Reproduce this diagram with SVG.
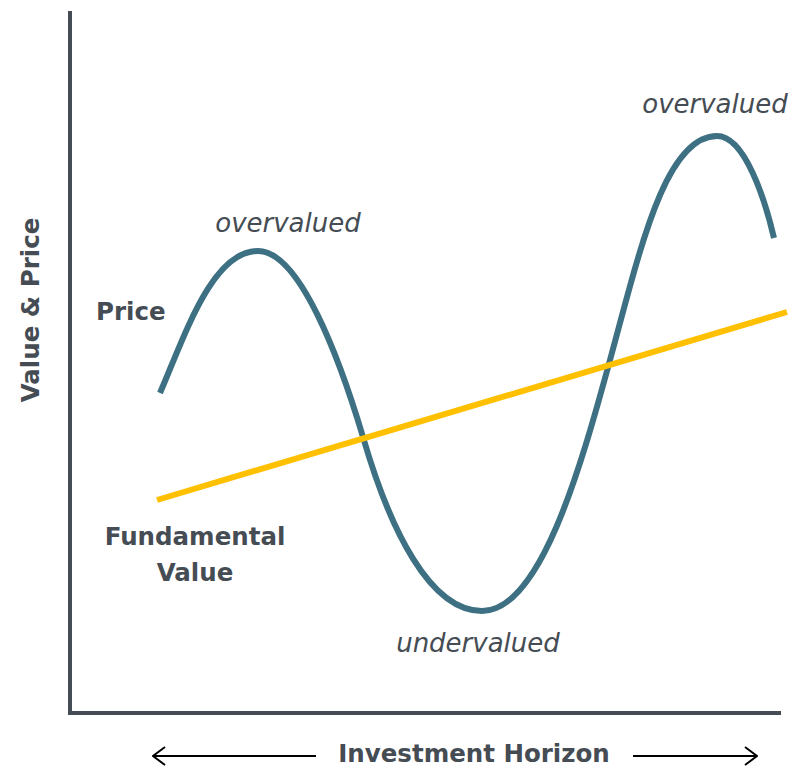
<svg xmlns="http://www.w3.org/2000/svg" width="792" height="769" viewBox="0 0 792 769">
<style>
.lbl{font-family:"DejaVu Sans","Open Sans",sans-serif;fill:#454c53}
.b{font-weight:bold;font-size:24.5px}
.i{font-style:italic;font-size:26px}
</style>
<defs>
<marker id="ah" markerWidth="14" markerHeight="20" refX="13" refY="10" orient="auto" markerUnits="userSpaceOnUse">
<path d="M1,1 L13,10 L1,19" fill="none" stroke="#000" stroke-width="2"/>
</marker>
</defs>
<rect width="792" height="769" fill="#fff"/>
<g id="axes" stroke="#454c53" stroke-width="4" fill="none">
<line x1="70" y1="11" x2="70" y2="715"/>
<line x1="68" y1="713" x2="781" y2="713"/>
</g>
<g id="connectors">
<path id="price" d="M160,393 C185,335 212,251 258,251 C300,251 340,360 363,437 C390,530 430,611 482,611 C540,611 580,470 610,360 C640,250 665,136 717,136 C745,136 765,200 774,238" fill="none" stroke="#3e7083" stroke-width="6"/>
<line id="fundamental" x1="157" y1="500" x2="787" y2="312" stroke="#ffc000" stroke-width="6"/>
<line x1="316" y1="756" x2="153" y2="756" stroke="#000" stroke-width="2" marker-end="url(#ah)"/>
<line x1="633" y1="756" x2="757" y2="756" stroke="#000" stroke-width="2" marker-end="url(#ah)"/>
</g>
<g id="labels">
<text class="lbl b" transform="translate(39,310) rotate(-90)" text-anchor="middle">Value &amp; Price</text>
<text class="lbl b" x="96" y="320">Price</text>
<text class="lbl b" x="195" y="545" text-anchor="middle">Fundamental</text>
<text class="lbl b" x="195" y="581" text-anchor="middle">Value</text>
<text class="lbl i" x="288" y="232" text-anchor="middle">overvalued</text>
<text class="lbl i" x="715" y="113" text-anchor="middle">overvalued</text>
<text class="lbl i" x="478" y="652" text-anchor="middle">undervalued</text>
<text class="lbl b" x="474" y="762" text-anchor="middle">Investment Horizon</text>
</g>
</svg>
